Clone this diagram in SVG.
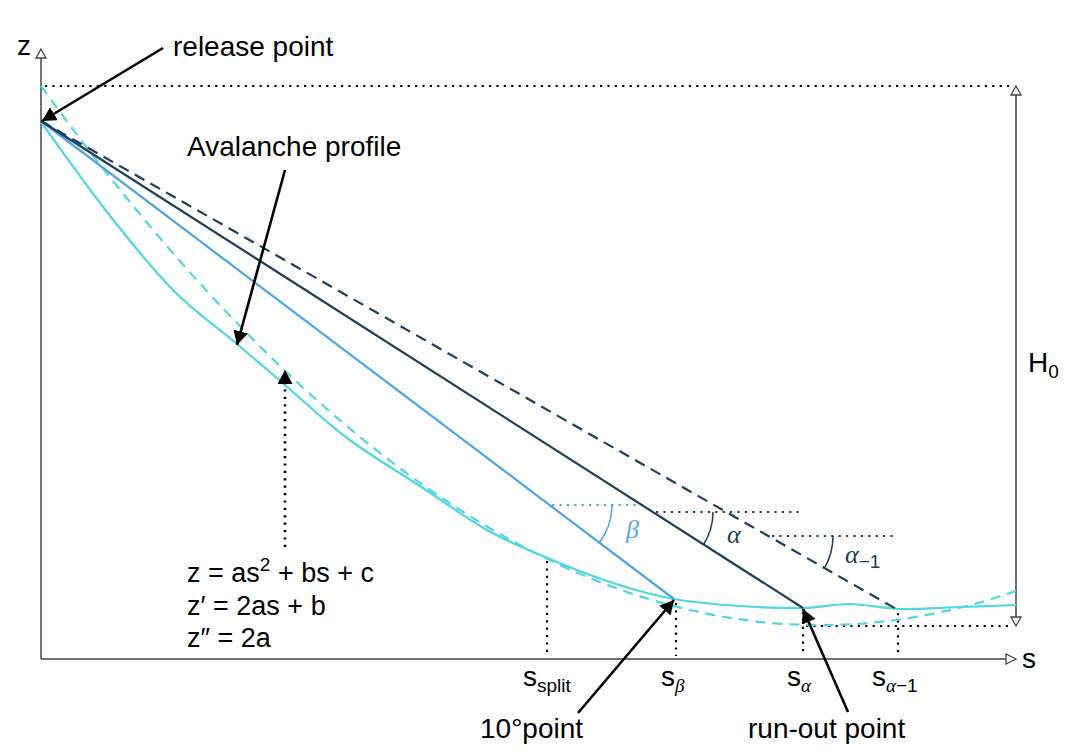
<svg xmlns="http://www.w3.org/2000/svg" width="1068" height="753" viewBox="0 0 1068 753">
<style>
text{font-family:"Liberation Sans",Arial,sans-serif;font-size:28px;fill:#000}
.eq{font-size:27px}
.sub{font-size:19px}
.gr{font-family:"Liberation Serif","DejaVu Serif",serif;font-style:italic}
.axis{stroke:#444;stroke-width:1.5;fill:none}
.head{fill:#fff;stroke:#444;stroke-width:1.3}
.dot{stroke:#000;stroke-width:2.2;stroke-dasharray:2.2 5.2;fill:none}
.cyan{stroke:#50d8e0;stroke-width:2.2;fill:none}
.blue{stroke:#4ea5e6;stroke-width:2.2;fill:none}
.navy{stroke:#1c3f5e;stroke-width:2.2;fill:none}
.arr{stroke:#000;stroke-width:2.6;fill:none;marker-end:url(#ah)}
</style>
<defs>
<marker id="ah" markerUnits="userSpaceOnUse" markerWidth="16" markerHeight="16" refX="14" refY="7.5" orient="auto">
<path d="M0,0 L14,7.5 L0,15 z" fill="#000"/>
</marker>
</defs>
<g id="axes">
<line class="axis" x1="41" y1="659" x2="41" y2="58"/>
<path class="head" d="M41,49 L46,58 L36,58 z"/>
<line class="axis" x1="41" y1="659" x2="1006" y2="659"/>
<path class="head" d="M1016,659 L1006,654 L1006,664 z"/>
<line class="axis" x1="1016" y1="95" x2="1016" y2="617"/>
<path class="head" d="M1016,86 L1021,95 L1011,95 z"/>
<path class="head" d="M1016,626 L1021,617 L1011,617 z"/>
</g>
<g id="guides">
<line class="dot" x1="45" y1="86" x2="1012" y2="86"/>
<line class="dot" x1="806" y1="626" x2="1012" y2="626"/>
<line class="dot" x1="547" y1="561" x2="547" y2="656"/>
<line class="dot" x1="676" y1="603" x2="676" y2="656"/>
<line class="dot" x1="803" y1="612" x2="803" y2="656"/>
<line class="dot" x1="898" y1="613" x2="898" y2="656"/>
<line class="dot" style="stroke:#4ea5e6" x1="552" y1="505" x2="643" y2="505"/>
<line class="dot" style="stroke:#1c3f5e" x1="656" y1="512" x2="800" y2="512"/>
<line class="dot" style="stroke:#1c3f5e" x1="772" y1="536" x2="897" y2="536"/>
</g>
<g id="curves">
<path id="parabola" class="cyan" style="stroke-dasharray:10 7" d="M41,86 Q528.5,760.6 1016,591"/>
<path id="profile" class="cyan" d="M41,122 C52,137 85,184 107,212 C129,240 151.3,268 173,290 C194.7,312 218.3,328.2 237,344 C255.7,359.8 266.7,369.3 285,385 C303.3,400.7 324,420.8 347,438 C370,455.2 399.7,472.7 423,488 C446.3,503.3 466.7,518.5 487,530 C507.3,541.5 524,548.2 545,557 C566,565.8 591.5,576 613,583 C634.5,590 652.8,595.2 674,599 C695.2,602.8 718.5,604.5 740,606 C761.5,607.5 784.7,608.3 803,608 C821.3,607.7 833.8,603.8 850,604 C866.2,604.2 881.7,608.5 900,609 C918.3,609.5 940.5,607.7 960,607 C979.5,606.3 1007.5,605.3 1017,605"/>
<line id="beta-line" class="blue" x1="41" y1="121" x2="674" y2="599"/>
<line id="alpha-line" class="navy" x1="41" y1="121" x2="803" y2="608"/>
<line id="alpha-1-line" class="navy" style="stroke-dasharray:11 7" x1="41" y1="121" x2="898" y2="610"/>
<path id="beta-arc" style="stroke:#4ea5e6;stroke-width:1.5;fill:none" d="M612,505 A62,62 0 0 1 599.5,542.3"/>
<path id="alpha-arc" style="stroke:#1c3f5e;stroke-width:1.5;fill:none" d="M713,512 A61,61 0 0 1 703.4,544.8"/>
<path id="alpha-1-arc" style="stroke:#1c3f5e;stroke-width:1.5;fill:none" d="M833,536 A65,65 0 0 1 824.5,568.2"/>
</g>
<g id="connectors">
<line class="arr" x1="163" y1="48" x2="42" y2="121"/>
<line class="arr" x1="285" y1="170" x2="237" y2="345"/>
<line class="dot arr" x1="285" y1="547" x2="285" y2="370"/>
<line class="arr" x1="578" y1="713" x2="674" y2="600"/>
<line class="arr" x1="848" y1="712" x2="803" y2="609"/>
</g>
<g id="label-z"><text x="17" y="55">z</text></g>
<g id="label-s"><text x="1022" y="668">s</text></g>
<g id="label-release"><text x="173" y="56">release point</text></g>
<g id="label-profile"><text x="187" y="156">Avalanche profile</text></g>
<g id="label-H0"><text x="1028" y="372">H<tspan class="sub" dy="6">0</tspan></text></g>
<g id="equations">
<text class="eq" x="187" y="582">z = as<tspan class="sub" dy="-11">2</tspan><tspan dy="11"> + bs + c</tspan></text>
<text class="eq" x="187" y="615">z′ = 2as + b</text>
<text class="eq" x="187" y="647">z″ = 2a</text>
</g>
<g id="label-beta"><text class="gr" x="626" y="538" style="font-size:26px;fill:#5aaae6">β</text></g>
<g id="label-alpha"><text class="gr" x="727" y="543" style="font-size:26px;fill:#1c3f5e">α</text></g>
<g id="label-alpha-1"><text x="845" y="563" style="fill:#1c3f5e"><tspan class="gr" style="font-size:26px">α</tspan><tspan class="sub" dy="5" style="fill:#1c3f5e">−1</tspan></text></g>
<g id="label-ssplit"><text x="523" y="686">s<tspan class="sub" dy="6">split</tspan></text></g>
<g id="label-sbeta"><text x="661" y="686">s<tspan class="sub gr" dy="6">β</tspan></text></g>
<g id="label-salpha"><text x="787" y="686">s<tspan class="sub gr" dy="6">α</tspan></text></g>
<g id="label-salpha-1"><text x="872" y="686">s<tspan class="sub gr" dy="6">α</tspan><tspan class="sub">−1</tspan></text></g>
<g id="label-10"><text x="480" y="738">10°point</text></g>
<g id="label-runout"><text x="748" y="738">run-out point</text></g>
</svg>
